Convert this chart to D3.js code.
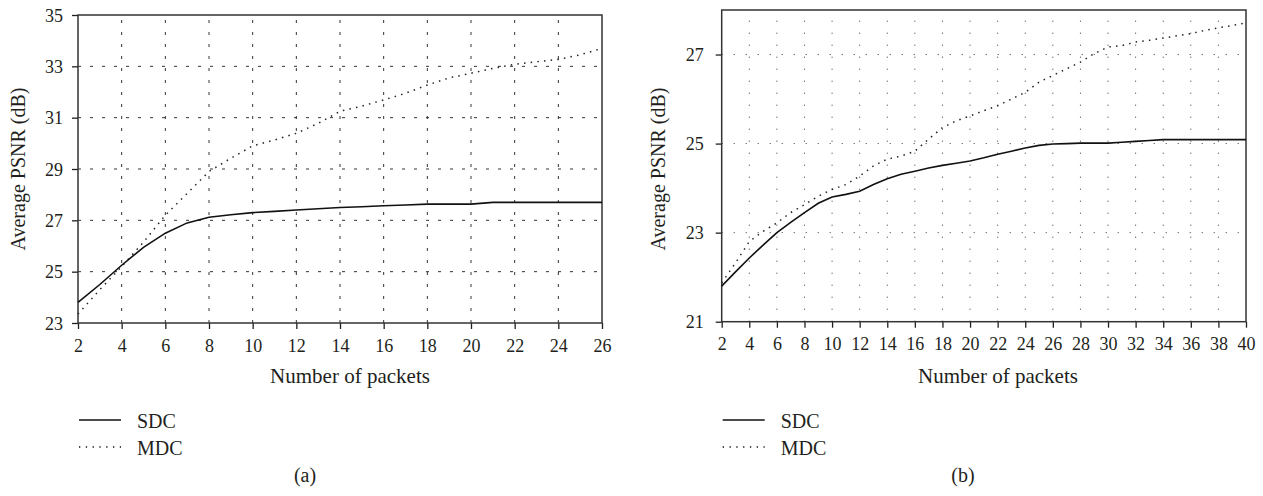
<!DOCTYPE html>
<html>
<head>
<meta charset="utf-8">
<script src="https://cdn.jsdelivr.net/npm/d3@7"></script>
<style>
  html, body { margin: 0; padding: 0; background: #fff; }
  svg { display: block; }
  text { font-family: "Liberation Serif", "Times New Roman", serif; fill: #231f20; }
</style>
</head>
<body>
<svg id="chart" width="1263" height="496"></svg>
<script>
// ---------------- Data ----------------
// Panel (a)
const packetsA = [2,3,4,5,6,7,8,9,10,11,12,13,14,15,16,17,18,19,20,21,22,23,24,25,26];
const sdcA = [23.8,24.5,25.25,25.95,26.5,26.9,27.12,27.22,27.3,27.35,27.4,27.45,27.5,27.53,27.57,27.6,27.63,27.63,27.63,27.7,27.7,27.7,27.7,27.7,27.7];
const mdcA = [23.35,24.3,25.2,26.15,27.2,28.05,28.9,29.42,29.9,30.13,30.39,30.78,31.25,31.45,31.69,31.95,32.27,32.55,32.73,32.92,33.08,33.18,33.27,33.45,33.7];
const xTicksA = [2,4,6,8,10,12,14,16,18,20,22,24,26];
const yTicksA = [23,25,27,29,31,33,35];

// Panel (b)
const packetsB = [2,3,4,5,6,7,8,9,10,11,12,13,14,15,16,17,18,19,20,21,22,23,24,25,26,27,28,29,30,31,32,33,34,35,36,37,38,39,40];
const sdcB = [21.8,22.12,22.43,22.72,23.0,23.23,23.45,23.66,23.8,23.86,23.93,24.08,24.21,24.31,24.38,24.45,24.51,24.56,24.61,24.68,24.76,24.83,24.9,24.96,24.99,25.0,25.01,25.01,25.01,25.03,25.05,25.07,25.09,25.09,25.09,25.09,25.09,25.09,25.09];
const mdcB = [21.87,22.32,22.8,23.03,23.22,23.45,23.63,23.82,23.97,24.08,24.27,24.5,24.65,24.72,24.83,25.1,25.36,25.51,25.62,25.74,25.85,26.0,26.15,26.38,26.53,26.68,26.83,27.02,27.17,27.2,27.28,27.32,27.37,27.42,27.47,27.54,27.6,27.65,27.71];
const xTicksB = [2,4,6,8,10,12,14,16,18,20,22,24,26,28,30,32,34,36,38,40];
const yTicksB = [21,23,25,27];

const seriesNames = ["SDC", "MDC"];
const xTitle = "Number of packets";
const yTitle = "Average PSNR (dB)";

// ---------------- Drawing ----------------
const FONT = '"Liberation Serif", "Times New Roman", serif';
const svg = d3.select("#chart");

function drawPanel(cfg) {
  const g = svg.append("g");
  const x = d3.scaleLinear().domain(cfg.xDomain).range([cfg.left, cfg.right]);
  const y = d3.scaleLinear().domain(cfg.yDomain).range([cfg.bottom, cfg.top]);

  // grid
  const grid = g.append("g").attr("class", "grid");
  grid.selectAll("line.vg").data(cfg.xTicks.slice(1, -1)).join("line")
    .attr("x1", d => x(d)).attr("x2", d => x(d))
    .attr("y1", cfg.bottom).attr("y2", cfg.top)
    .attr("stroke", "#333").attr("stroke-width", 1)
    .attr("stroke-dasharray", cfg.vDash);
  grid.selectAll("line.hg").data(cfg.yGrid).join("line")
    .attr("x1", cfg.left).attr("x2", cfg.right)
    .attr("y1", d => y(d)).attr("y2", d => y(d))
    .attr("stroke", "#333").attr("stroke-width", 1)
    .attr("stroke-dasharray", cfg.hDash);

  // axes
  const fmt = d3.format("d");
  const xAxis = d3.axisBottom(x).tickValues(cfg.xTicks).tickFormat(fmt)
    .tickSize(6).tickSizeOuter(0).tickPadding(10);
  const yAxis = d3.axisLeft(y).tickValues(cfg.yTicks).tickFormat(fmt)
    .tickSize(6).tickSizeOuter(0).tickPadding(cfg.yPad);
  const gx = g.append("g").attr("transform", `translate(0,${cfg.bottom})`).call(xAxis);
  const gy = g.append("g").attr("transform", `translate(${cfg.left},0)`).call(yAxis);
  [gx, gy].forEach(a => {
    a.attr("font-family", FONT).attr("font-size", 18);
    a.select(".domain").remove();
    a.selectAll(".tick line").attr("stroke", "#231f20").attr("stroke-width", 1.3);
    a.selectAll(".tick text").attr("fill", "#231f20")
      .style("font-family", FONT).style("font-size", "18px");
  });
  gy.selectAll(".tick text").attr("dy", "0.34em");

  // frame
  g.append("rect")
    .attr("x", cfg.left).attr("y", cfg.top)
    .attr("width", cfg.right - cfg.left).attr("height", cfg.bottom - cfg.top)
    .attr("fill", "none").attr("stroke", "#333").attr("stroke-width", 1.5);

  // lines
  const line = d3.line().x(d => x(d[0])).y(d => y(d[1]));
  const sdcPts = cfg.packets.map((p, i) => [p, cfg.sdc[i]]);
  const mdcPts = cfg.packets.map((p, i) => [p, cfg.mdc[i]]);
  g.append("path").datum(mdcPts).attr("d", line)
    .attr("fill", "none").attr("stroke", "#222").attr("stroke-width", 1.5)
    .attr("stroke-dasharray", "1.5,5.2");
  g.append("path").datum(sdcPts).attr("d", line)
    .attr("fill", "none").attr("stroke", "#111").attr("stroke-width", 1.6);

  // axis titles
  g.append("text")
    .attr("x", cfg.xTitleX).attr("y", 383)
    .attr("text-anchor", "middle").style("font-size", "21px").text(xTitle);
  g.append("text")
    .attr("transform", `translate(${cfg.yTitleX},${cfg.yTitleY}) rotate(-90)`)
    .attr("text-anchor", "middle").style("font-size", "20px").text(yTitle);

  // legend
  const leg = g.append("g");
  const legY = [420, 447];
  leg.selectAll("line").data(seriesNames).join("line")
    .attr("x1", cfg.left + 1).attr("x2", cfg.left + 43)
    .attr("y1", (d, i) => legY[i]).attr("y2", (d, i) => legY[i])
    .attr("stroke", "#111")
    .attr("stroke-width", (d, i) => i === 0 ? 1.6 : 1.3)
    .attr("stroke-dasharray", (d, i) => i === 0 ? null : "1.3,5.5");
  leg.selectAll("text").data(seriesNames).join("text")
    .attr("x", cfg.left + 59).attr("y", (d, i) => legY[i] + 7.5)
    .style("font-size", "20px").text(d => d);

  // caption
  g.append("text")
    .attr("x", cfg.capX).attr("y", 482)
    .attr("text-anchor", "middle").style("font-size", "20px").text(cfg.caption);
}

drawPanel({
  left: 78, right: 602, top: 15, bottom: 323,
  xDomain: [2, 26], yDomain: [23, 35],
  xTicks: xTicksA, yTicks: yTicksA, yGrid: [25, 27, 29, 31, 33],
  packets: packetsA, sdc: sdcA, mdc: mdcA,
  vDash: "3,9", hDash: "3,9", yPad: 9,
  xTitleX: 350, yTitleX: 25, yTitleY: 169, capX: 305, caption: "(a)"
});

drawPanel({
  left: 721.7, right: 1246, top: 10, bottom: 321.7,
  xDomain: [2, 40], yDomain: [21, 28],
  xTicks: xTicksB, yTicks: yTicksB, yGrid: [23, 25, 27],
  packets: packetsB, sdc: sdcB, mdc: mdcB,
  vDash: "1,11", hDash: "1,11", yPad: 12,
  xTitleX: 998, yTitleX: 665, yTitleY: 169, capX: 963, caption: "(b)"
});
</script>
</body>
</html>
